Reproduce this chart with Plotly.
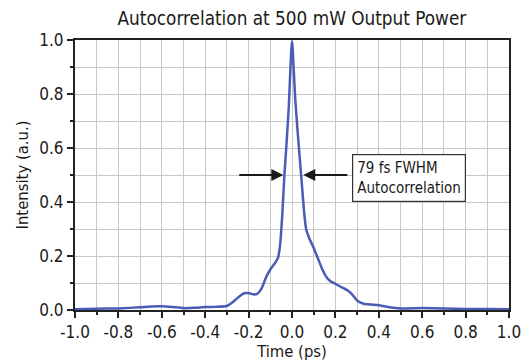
import plotly.graph_objects as go

time_ps = [-1.0, -0.9, -0.8, -0.7, -0.65, -0.6, -0.55, -0.5, -0.45, -0.4, -0.35, -0.3,
           -0.28, -0.26, -0.24, -0.22, -0.2, -0.18, -0.16, -0.14, -0.12, -0.1, -0.08,
           -0.065, -0.055, -0.045, -0.035, -0.025, -0.015, -0.008, -0.003, 0.0, 0.003, 0.008, 0.015,
           0.025, 0.035, 0.045, 0.055, 0.065, 0.08, 0.1, 0.12, 0.14, 0.16, 0.18, 0.2,
           0.22, 0.24, 0.26, 0.28, 0.3, 0.33, 0.36, 0.4, 0.45, 0.5, 0.6, 0.7, 0.8, 0.9, 1.0]
intensity = [0.003, 0.005, 0.006, 0.010, 0.013, 0.014, 0.011, 0.007, 0.008, 0.011, 0.012, 0.015,
             0.025, 0.038, 0.052, 0.062, 0.063, 0.058, 0.060, 0.080, 0.120, 0.150, 0.172,
             0.192, 0.240, 0.350, 0.500, 0.620, 0.750, 0.880, 0.965, 0.995, 0.970, 0.890, 0.780,
             0.670, 0.570, 0.470, 0.370, 0.300, 0.265, 0.230, 0.190, 0.150, 0.120, 0.105, 0.097,
             0.088, 0.080, 0.070, 0.055, 0.035, 0.023, 0.020, 0.018, 0.010, 0.006, 0.007, 0.006, 0.004, 0.004, 0.003]

x_ticks = [-1.0, -0.8, -0.6, -0.4, -0.2, 0.0, 0.2, 0.4, 0.6, 0.8, 1.0]
x_labels = ["-1.0", "-0.8", "-0.6", "-0.4", "-0.2", "0.0", "0.2", "0.4", "0.6", "0.8", "1.0"]
y_ticks = [0.0, 0.2, 0.4, 0.6, 0.8, 1.0]
y_labels = ["0.0", "0.2", "0.4", "0.6", "0.8", "1.0"]

FONT = "DejaVu Sans Condensed, Liberation Sans Narrow, sans-serif"

fig = go.Figure()
fig.add_trace(go.Scatter(x=time_ps, y=intensity, mode="lines",
                         line=dict(color="#4a5cb5", width=2.5, shape="spline", smoothing=0.4),
                         showlegend=False))

fig.update_layout(
    width=526, height=364,
    margin=dict(l=75, r=17, t=40, b=54),
    paper_bgcolor="white", plot_bgcolor="white",
    font=dict(family=FONT, color="#1a1a1a", size=16),
    title=dict(text="Autocorrelation at 500 mW Output Power", x=0.555, xanchor="center",
               y=0.95, yanchor="middle", font=dict(size=18.8, family=FONT, color="#1a1a1a")),
    xaxis=dict(range=[-1.0, 1.0], tickvals=x_ticks, ticktext=x_labels, automargin=False,
               tickfont=dict(size=17),
               showgrid=True, gridcolor="#c8c8c8", gridwidth=1,
               minor=dict(dtick=0.1, showgrid=True, gridcolor="#c8c8c8", gridwidth=1,
                          ticks="outside", ticklen=3, tickcolor="#222222", tickwidth=1.5),
               ticks="outside", ticklen=6, tickcolor="#222222", tickwidth=1.5,
               showline=True, linecolor="#222222", linewidth=2, mirror=True,
               zeroline=False,
               title=dict(text="Time (ps)", standoff=2, font=dict(size=16.5))),
    yaxis=dict(range=[0.0, 1.0], tickvals=y_ticks, ticktext=y_labels, automargin=False,
               tickfont=dict(size=17),
               showgrid=True, gridcolor="#c8c8c8", gridwidth=1,
               minor=dict(dtick=0.1, showgrid=True, gridcolor="#c8c8c8", gridwidth=1,
                          ticks="outside", ticklen=3, tickcolor="#222222", tickwidth=1.5),
               ticks="outside", ticklen=6, tickcolor="#222222", tickwidth=1.5,
               showline=True, linecolor="#222222", linewidth=2, mirror=True,
               zeroline=False,
               title=dict(text="Intensity (a.u.)", standoff=6, font=dict(size=16.5))),
)

# FWHM arrows
fig.add_annotation(x=-0.04, y=0.5, ax=-0.25, ay=0.5, xref="x", yref="y", axref="x", ayref="y",
                   text="", showarrow=True, arrowhead=2, arrowsize=1.2, arrowwidth=2,
                   arrowcolor="#1a1a1a")
fig.add_annotation(x=0.052, y=0.5, ax=0.262, ay=0.5, xref="x", yref="y", axref="x", ayref="y",
                   text="", showarrow=True, arrowhead=2, arrowsize=1.2, arrowwidth=2,
                   arrowcolor="#1a1a1a")
fig.add_annotation(x=0.275, y=0.488, xref="x", yref="y", xanchor="left", yanchor="middle",
                   text="79 fs FWHM<br>Autocorrelation", showarrow=False, align="left",
                   font=dict(size=15, family=FONT, color="#1a1a1a"),
                   bordercolor="#333333", borderwidth=1.2, borderpad=4, bgcolor="white")

fig.write_html("out.html", config={"displayModeBar": False},
               post_script="document.body.style.margin='0';document.body.style.overflow='hidden';")
